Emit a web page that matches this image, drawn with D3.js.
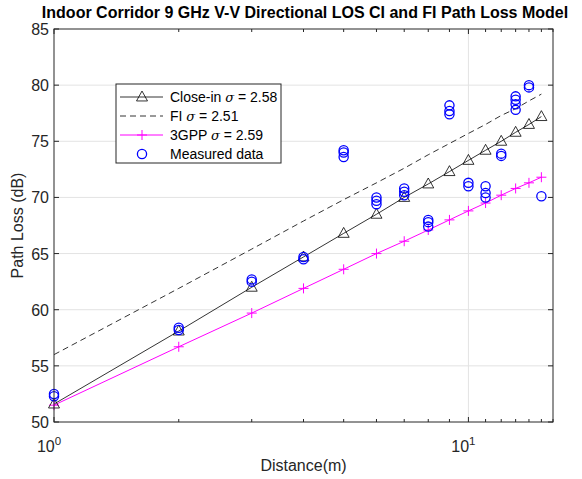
<!DOCTYPE html>
<html>
<head>
<meta charset="utf-8">
<script src="https://cdn.jsdelivr.net/npm/d3@7"></script>
<style>
  html, body { margin: 0; padding: 0; background: #fff; }
  svg { display: block; font-family: "Liberation Sans", Arial, sans-serif; }
</style>
</head>
<body>
<svg id="chart" width="582" height="479"></svg>
<script>
// Distances (m) at which the models are evaluated
const distances = [1, 2, 3, 4, 5, 6, 7, 8, 9, 10, 11, 12, 13, 14, 15];

// Close-in (CI) model path loss (dB)
const closeIn = [51.6, 58.1, 62.0, 64.7, 66.8, 68.5, 70.0, 71.2, 72.3, 73.3, 74.2, 75.0, 75.8, 76.5, 77.2];
// Floating-intercept (FI) model path loss (dB)
const floatingIntercept = [56.0, 61.9, 65.4, 67.9, 69.8, 71.3, 72.6, 73.8, 74.8, 75.7, 76.5, 77.3, 77.9, 78.6, 79.2];
// 3GPP model path loss (dB)
const gpp3 = [51.5, 56.7, 59.7, 61.9, 63.6, 65.0, 66.1, 67.1, 68.0, 68.8, 69.5, 70.2, 70.8, 71.3, 71.8];

// Measured path loss samples: distance (m) and value (dB)
const measuredDist = [
  1, 1,
  2, 2,
  3, 3,
  4, 4,
  5, 5, 5,
  6, 6, 6,
  7, 7, 7,
  8, 8, 8,
  9, 9, 9,
  10, 10,
  11, 11, 11,
  12, 12,
  13, 13, 13, 13,
  14, 14,
  15
];
const measuredPL = [
  52.3, 52.5,
  58.2, 58.4,
  62.5, 62.7,
  64.5, 64.7,
  73.6, 74.0, 74.2,
  69.4, 69.7, 70.0,
  70.2, 70.5, 70.8,
  67.4, 67.8, 68.0,
  77.4, 77.7, 78.2,
  71.0, 71.3,
  70.0, 70.4, 71.0,
  73.7, 73.9,
  77.8, 78.3, 78.7, 79.0,
  79.8, 80.0,
  70.1
];

const yTicks = [50, 55, 60, 65, 70, 75, 80, 85];
const xMajorTicks = [1, 10];
const xMinorTicks = [2, 3, 4, 5, 6, 7, 8, 9, 11, 12, 13, 14, 15, 16];

const legendLabels = [
  { name: "Close-in", sigma: "2.58" },
  { name: "FI", sigma: "2.51" },
  { name: "3GPP", sigma: "2.59" },
  { name: "Measured data", sigma: null }
];

const svg = d3.select("#chart");
const plotLeft = 54, plotRight = 553, plotTop = 29, plotBottom = 422;

const x = d3.scaleLog().domain([1, 16]).range([plotLeft, plotRight]);
const y = d3.scaleLinear().domain([50, 85]).range([plotBottom, plotTop]);

const axisColor = "#262626";
const gridColor = "#e3e3e3";

// grid lines
const grid = svg.append("g");
grid.selectAll("line.h").data(yTicks.slice(1, -1)).enter().append("line")
  .attr("x1", plotLeft).attr("x2", plotRight)
  .attr("y1", d => y(d)).attr("y2", d => y(d))
  .attr("stroke", gridColor).attr("stroke-width", 1);
grid.selectAll("line.v").data([10]).enter().append("line")
  .attr("x1", d => x(d)).attr("x2", d => x(d))
  .attr("y1", plotTop).attr("y2", plotBottom)
  .attr("stroke", gridColor).attr("stroke-width", 1);

// model lines
const line = d3.line().x((d, i) => x(distances[i])).y(d => y(d));

svg.append("path").datum(floatingIntercept)
  .attr("d", line).attr("fill", "none")
  .attr("stroke", "#000").attr("stroke-width", 0.8)
  .attr("stroke-dasharray", "6,4");

svg.append("path").datum(gpp3)
  .attr("d", line).attr("fill", "none")
  .attr("stroke", "#ff00ff").attr("stroke-width", 1);

svg.append("path").datum(closeIn)
  .attr("d", line).attr("fill", "none")
  .attr("stroke", "#000").attr("stroke-width", 0.8);

// markers
const triangle = (cx, cy, s) => {
  const h = s * 0.9;
  return `M${cx},${cy - h * 0.6}L${cx + s / 2},${cy + h * 0.4}L${cx - s / 2},${cy + h * 0.4}Z`;
};
const plus = (cx, cy, s) => `M${cx - s / 2},${cy}H${cx + s / 2}M${cx},${cy - s / 2}V${cy + s / 2}`;

svg.append("g").selectAll("path").data(gpp3).enter().append("path")
  .attr("d", (d, i) => plus(x(distances[i]), y(d), 10))
  .attr("stroke", "#ff00ff").attr("stroke-width", 1).attr("fill", "none");

svg.append("g").selectAll("path").data(closeIn).enter().append("path")
  .attr("d", (d, i) => triangle(x(distances[i]), y(d), 11))
  .attr("stroke", "#000").attr("stroke-width", 0.8).attr("fill", "none");

svg.append("g").selectAll("circle").data(measuredPL).enter().append("circle")
  .attr("cx", (d, i) => x(measuredDist[i])).attr("cy", d => y(d))
  .attr("r", 4.6)
  .attr("fill", "none").attr("stroke", "#0000ff").attr("stroke-width", 1.3);

// axes box
svg.append("rect")
  .attr("x", plotLeft).attr("y", plotTop)
  .attr("width", plotRight - plotLeft).attr("height", plotBottom - plotTop)
  .attr("fill", "none").attr("stroke", axisColor).attr("stroke-width", 1);

// ticks (inward, on both sides)
const ticks = svg.append("g").attr("stroke", axisColor).attr("stroke-width", 1);
yTicks.forEach(v => {
  ticks.append("line").attr("x1", plotLeft).attr("x2", plotLeft + 5).attr("y1", y(v)).attr("y2", y(v));
  ticks.append("line").attr("x1", plotRight).attr("x2", plotRight - 5).attr("y1", y(v)).attr("y2", y(v));
});
xMajorTicks.forEach(v => {
  ticks.append("line").attr("x1", x(v)).attr("x2", x(v)).attr("y1", plotBottom).attr("y2", plotBottom - 5);
  ticks.append("line").attr("x1", x(v)).attr("x2", x(v)).attr("y1", plotTop).attr("y2", plotTop + 5);
});
xMinorTicks.forEach(v => {
  ticks.append("line").attr("x1", x(v)).attr("x2", x(v)).attr("y1", plotBottom).attr("y2", plotBottom - 3);
  ticks.append("line").attr("x1", x(v)).attr("x2", x(v)).attr("y1", plotTop).attr("y2", plotTop + 3);
});

// tick labels
svg.append("g").selectAll("text").data(yTicks).enter().append("text")
  .attr("x", plotLeft - 5).attr("y", d => y(d) + 6)
  .attr("text-anchor", "end").attr("font-size", 16).attr("fill", axisColor)
  .text(d => d);

const xl = svg.append("g").selectAll("text").data(xMajorTicks).enter().append("text")
  .attr("x", d => x(d) - 5).attr("y", 452)
  .attr("text-anchor", "middle").attr("font-size", 16).attr("fill", axisColor);
xl.append("tspan").text("10");
xl.append("tspan").attr("dy", -7).attr("font-size", 11.5).text(d => Math.round(Math.log10(d)));

// axis labels and title
svg.append("text").attr("x", (plotLeft + plotRight) / 2).attr("y", 471)
  .attr("text-anchor", "middle").attr("font-size", 16).attr("fill", axisColor)
  .text("Distance(m)");

svg.append("text")
  .attr("transform", `translate(23,${(plotTop + plotBottom) / 2}) rotate(-90)`)
  .attr("text-anchor", "middle").attr("font-size", 16).attr("fill", axisColor)
  .text("Path Loss (dB)");

svg.append("text").attr("x", 305).attr("y", 17.5)
  .attr("text-anchor", "middle").attr("font-size", 16).attr("font-weight", "bold")
  .attr("fill", "#000")
  .text("Indoor Corridor 9 GHz V-V Directional LOS CI and FI Path Loss Model");

// legend
const lg = svg.append("g");
lg.append("rect").attr("x", 116).attr("y", 84).attr("width", 165).attr("height", 79)
  .attr("fill", "#fff").attr("stroke", axisColor).attr("stroke-width", 1);

const rowY = [97, 116, 135, 154];
const lx1 = 120, lx2 = 163, lmid = 142;
lg.append("line").attr("x1", lx1).attr("x2", lx2).attr("y1", rowY[0]).attr("y2", rowY[0])
  .attr("stroke", "#000").attr("stroke-width", 0.8);
lg.append("path").attr("d", triangle(lmid, rowY[0], 11))
  .attr("stroke", "#000").attr("stroke-width", 0.8).attr("fill", "none");
lg.append("line").attr("x1", lx1).attr("x2", lx2).attr("y1", rowY[1]).attr("y2", rowY[1])
  .attr("stroke", "#000").attr("stroke-width", 0.8).attr("stroke-dasharray", "6,4");
lg.append("line").attr("x1", lx1).attr("x2", lx2).attr("y1", rowY[2]).attr("y2", rowY[2])
  .attr("stroke", "#ff00ff").attr("stroke-width", 1);
lg.append("path").attr("d", plus(lmid, rowY[2], 10))
  .attr("stroke", "#ff00ff").attr("stroke-width", 1);
lg.append("circle").attr("cx", lmid).attr("cy", rowY[3]).attr("r", 4.6)
  .attr("fill", "none").attr("stroke", "#0000ff").attr("stroke-width", 1.3);

legendLabels.forEach((d, i) => {
  const t = lg.append("text").attr("x", 170).attr("y", rowY[i] + 5)
    .attr("font-size", 14).attr("fill", "#000");
  if (d.sigma === null) {
    t.text(d.name);
  } else {
    t.append("tspan").text(d.name + " ");
    t.append("tspan").attr("font-style", "italic").attr("font-family", "DejaVu Serif, serif").attr("font-size", 13).text("σ");
    t.append("tspan").text(" = " + d.sigma);
  }
});
</script>
</body>
</html>
